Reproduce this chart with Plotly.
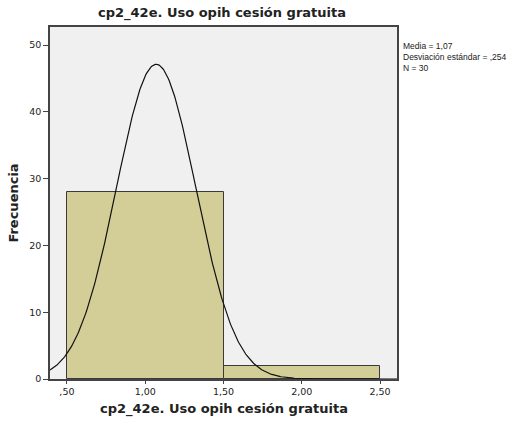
import numpy as np
import plotly.graph_objects as go

# Histogram bins (lower edge, upper edge) and frequencies
bin_left = [0.5, 1.5]
bin_right = [1.5, 2.5]
freq = [28, 2]

# Summary statistics for the fitted normal curve
mean = 1.07
sd = 0.254
n = 30

x_ticks = [0.5, 1.0, 1.5, 2.0, 2.5]
x_tick_text = [",50", "1,00", "1,50", "2,00", "2,50"]
y_ticks = [0, 10, 20, 30, 40, 50]

x_range = [0.392, 2.608]
y_range = [0, 52.7]

var_label = "cp2_42e. Uso opih cesión gratuita"

fig = go.Figure()

widths = [r - l for l, r in zip(bin_left, bin_right)]
centers = [(l + r) / 2 for l, r in zip(bin_left, bin_right)]
fig.add_trace(go.Bar(
    x=centers, y=freq, width=widths,
    marker=dict(color="#D3CE97", line=dict(color="#3a3a3a", width=1)),
    hoverinfo="skip", showlegend=False,
))

# Normal density scaled by N * bin width
bw = widths[0]
xs = np.linspace(x_range[0], x_range[1], 400)
ys = n * bw / (sd * np.sqrt(2 * np.pi)) * np.exp(-0.5 * ((xs - mean) / sd) ** 2)
fig.add_trace(go.Scatter(
    x=xs, y=ys, mode="lines",
    line=dict(color="#111111", width=1.2),
    hoverinfo="skip", showlegend=False,
))

font = "DejaVu Sans"
plot_h = 421 - 27 - 42
fig.update_layout(
    width=518, height=421,
    margin=dict(l=47, r=121, t=27, b=42),
    paper_bgcolor="white",
    plot_bgcolor="#F0F0F0",
    bargap=0,
    font=dict(family=font, color="#222222"),
    title=dict(
        text=f"<b>{var_label}</b>",
        x=(47 + 397) / 2 / 518, xanchor="center",
        y=1 - 12 / 421, yanchor="middle",
        font=dict(size=13, family=font, color="#222222"),
    ),
    xaxis=dict(
        range=x_range, tickvals=x_ticks, ticktext=x_tick_text,
        showgrid=False, zeroline=False,
        showline=True, linecolor="#444444", linewidth=1.5, mirror=True,
        ticks="outside", ticklen=3, tickcolor="#444444",
        tickfont=dict(size=9.5, family=font),
    ),
    yaxis=dict(
        range=y_range, tickvals=y_ticks,
        showgrid=False, zeroline=False,
        showline=True, linecolor="#444444", linewidth=1.5, mirror=True,
        ticks="outside", ticklen=5, tickcolor="#444444",
        tickfont=dict(size=9.5, family=font),
        title=dict(text="<b>Frecuencia</b>",
                   font=dict(size=13, family=font), standoff=8),
    ),
    annotations=[
        dict(
            text=f"<b>{var_label}</b>",
            xref="paper", yref="paper", x=0.5, y=-30 / plot_h,
            xanchor="center", yanchor="middle", showarrow=False,
            font=dict(size=13, family=font, color="#222222"),
        ),
        dict(
            text=f"Media = {mean:.2f}".replace(".", ",")
            + f"<br>Desviación estándar = ,{int(round(sd * 1000))}"
            + f"<br>N = {n}",
            xref="paper", yref="paper",
            x=1.0, xshift=4, y=1 - 12 / plot_h, yanchor="top", xanchor="left",
            align="left", showarrow=False,
            font=dict(size=8.5, family="Liberation Sans", color="#222222"),
        ),
    ],
)

fig.write_html("out.html")
